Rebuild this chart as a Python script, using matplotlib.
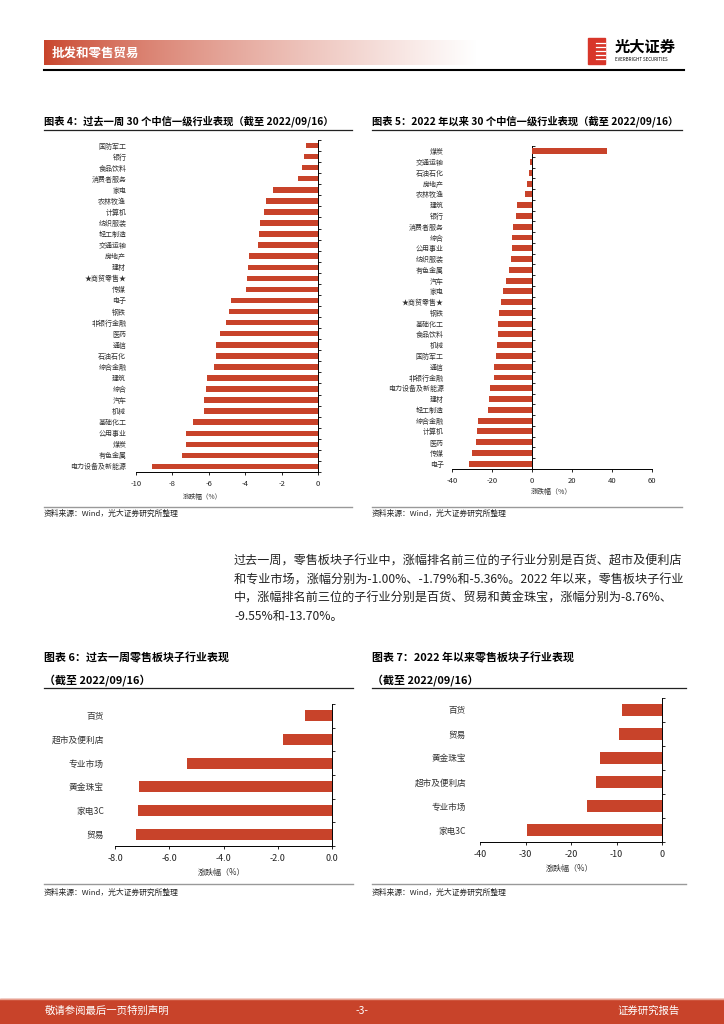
import numpy as np
import matplotlib.pyplot as plt
from matplotlib.lines import Line2D
from matplotlib.patches import Rectangle
from matplotlib.colors import to_rgb

plt.rcParams['font.family'] = ['Noto Sans CJK SC', 'DejaVu Sans']
plt.rcParams['axes.unicode_minus'] = False

RED = '#C8432A'
W, H = 724, 1024

# 图表4: 过去一周 30 个中信一级行业
wk_inds = ['国防军工', '银行', '食品饮料', '消费者服务', '家电', '农林牧渔', '计算机', '纺织服装',
           '轻工制造', '交通运输', '房地产', '建材', '★商贸零售★', '传媒', '电子', '钢铁',
           '非银行金融', '医药', '通信', '石油石化', '综合金融', '建筑', '综合', '汽车', '机械',
           '基础化工', '公用事业', '煤炭', '有色金属', '电力设备及新能源']
wk_chg = [-0.68, -0.79, -0.90, -1.10, -2.50, -2.88, -2.94, -3.19, -3.23, -3.27, -3.80, -3.83,
          -3.91, -3.98, -4.79, -4.90, -5.05, -5.38, -5.58, -5.58, -5.69, -6.09, -6.17, -6.26,
          -6.26, -6.86, -7.23, -7.28, -7.45, -9.14]

# 图表5: 2022 年以来 30 个中信一级行业
ytd_inds = ['煤炭', '交通运输', '石油石化', '房地产', '农林牧渔', '建筑', '银行', '消费者服务',
            '综合', '公用事业', '纺织服装', '有色金属', '汽车', '家电', '★商贸零售★', '钢铁',
            '基础化工', '食品饮料', '机械', '国防军工', '通信', '非银行金融', '电力设备及新能源',
            '建材', '轻工制造', '综合金融', '计算机', '医药', '传媒', '电子']
ytd_chg = [37.5, -1.2, -1.5, -2.5, -3.3, -7.5, -7.8, -9.5, -9.8, -9.8, -10.5, -11.3, -13.0,
           -14.7, -15.5, -16.7, -17.0, -17.0, -17.3, -18.0, -19.2, -19.2, -21.0, -21.3, -22.0,
           -26.8, -27.3, -27.8, -30.0, -31.5]

# 图表6 / 图表7: 零售板块子行业
rt_wk_names = ['百货', '超市及便利店', '专业市场', '黄金珠宝', '家电3C', '贸易']
rt_wk_chg = [-1.00, -1.79, -5.36, -7.11, -7.17, -7.22]
rt_ytd_names = ['百货', '贸易', '黄金珠宝', '超市及便利店', '专业市场', '家电3C']
rt_ytd_chg = [-8.76, -9.55, -13.70, -14.5, -16.5, -29.6]

fig = plt.figure(figsize=(W / 100, H / 100), dpi=100)


def px_axes(l, t, r, b):
    return fig.add_axes([l / W, 1 - b / H, (r - l) / W, (b - t) / H])


def txt(x, y, s, **kw):
    kw.setdefault('va', 'center')
    return fig.text(x / W, 1 - y / H, s, **kw)


def hline(x0, x1, y, **kw):
    fig.add_artist(Line2D([x0 / W, x1 / W], [1 - y / H] * 2, transform=fig.transFigure, **kw))


def hbar(ax, names, vals, xlim, xticks, fmt, bh, lab_fs, tick_fs, lab_pad):
    y = np.arange(len(names))
    ax.barh(y, vals, height=bh, color=RED)
    ax.set_xlim(xlim)
    ax.set_ylim(len(names) - 0.5, -0.5)
    ax.set_yticks(y, names)
    ax.tick_params(axis='y', length=0, pad=lab_pad, labelsize=lab_fs, labelcolor='#333333')
    ax.set_xticks(xticks, [fmt.format(v) for v in xticks])
    ax.tick_params(axis='x', length=2.5, width=0.6, labelsize=tick_fs, pad=3,
                   labelcolor='#222222')
    for s in ['top', 'right', 'left']:
        ax.spines[s].set_visible(False)
    ax.spines['bottom'].set_linewidth(0.7)
    ax.patch.set_alpha(0)
    # category axis at x = 0 with ticks between bars
    pos0 = (0 - xlim[0]) / (xlim[1] - xlim[0])
    sec = ax.secondary_yaxis(pos0)
    sec.set_alignment('right')
    sec.set_yticks(np.arange(len(names) + 1) - 0.5)
    sec.tick_params(length=2.5, width=0.6, direction='out', labelright=False, labelleft=False)
    sec.spines['right'].set_linewidth(0.7)


# ---- header ----
ax_b = px_axes(44, 40, 477, 65)
c0 = np.array(to_rgb(RED))
t = np.linspace(0, 1, 300)[None, :, None] ** 0.75
ax_b.imshow(c0 * (1 - t) + np.ones(3) * t, aspect='auto', extent=[0, 1, 0, 1])
ax_b.axis('off')
txt(52, 53, '批发和零售贸易', color='white', fontsize=9, fontweight='bold')
hline(44, 684, 70, color='black', lw=1.5)
fig.patches.append(Rectangle((588 / W, 1 - 64 / H), 17 / W, 26 / H, color='#D8362A',
                             transform=fig.transFigure))
for yy in [43, 47, 51, 55, 59]:
    hline(596, 605, yy, color='white', lw=0.9)
txt(615, 47, '光大证券', fontsize=11, fontweight='bold', color='black')
txt(615, 59.5, 'EVERBRIGHT SECURITIES', fontsize=3.2, color='black')

# ---- 图表4 ----
txt(44, 121, '图表 4：过去一周 30 个中信一级行业表现（截至 2022/09/16）', fontsize=7.4,
    fontweight='bold')
hline(44, 352, 130, color='#222222', lw=0.9)
ax4 = px_axes(136, 140, 318, 472)
hbar(ax4, wk_inds, wk_chg, (-10, 0), [-10, -8, -6, -4, -2, 0], '{:g}', 0.5, 5, 5.5, 7)
txt(202, 497, '涨跌幅（%）', fontsize=4.8, ha='center', color='#333333')
hline(44, 352, 507, color='#999999', lw=1)
txt(44, 514, '资料来源：Wind，光大证券研究所整理', fontsize=5.6, color='#222222')

# ---- 图表5 ----
txt(372, 121, '图表 5：2022 年以来 30 个中信一级行业表现（截至 2022/09/16）', fontsize=7.4,
    fontweight='bold')
hline(372, 682, 130, color='#222222', lw=0.9)
ax5 = px_axes(452, 146, 652, 469)
hbar(ax5, ytd_inds, ytd_chg, (-40, 60), [-40, -20, 0, 20, 40, 60], '{:g}', 0.55, 5, 5.5, 6)
txt(551, 492, '涨跌幅（%）', fontsize=5, ha='center', color='#333333')
hline(372, 682, 507, color='#999999', lw=1)
txt(372, 514, '资料来源：Wind，光大证券研究所整理', fontsize=5.6, color='#222222')

# ---- paragraph ----
para = ['过去一周，零售板块子行业中，涨幅排名前三位的子行业分别是百货、超市及便利店',
        '和专业市场，涨幅分别为-1.00%、-1.79%和-5.36%。2022 年以来，零售板块子行业',
        '中，涨幅排名前三位的子行业分别是百货、贸易和黄金珠宝，涨幅分别为-8.76%、',
        '-9.55%和-13.70%。']
for i, line in enumerate(para):
    txt(234, 561 + i * 18.6, line, fontsize=8.7, color='#222222')

# ---- 图表6 ----
txt(44, 658, '图表 6：过去一周零售板块子行业表现', fontsize=7.9, fontweight='bold')
txt(44, 680, '（截至 2022/09/16）', fontsize=7.9, fontweight='bold')
hline(44, 353, 688, color='#222222', lw=0.9)
ax6 = px_axes(115, 704, 332, 846)
hbar(ax6, rt_wk_names, rt_wk_chg, (-8, 0), [-8, -6, -4, -2, 0], '{:.1f}', 0.47, 6.3, 6.5, 8)
txt(221, 872, '涨跌幅（%）', fontsize=5.8, ha='center', color='#333333')
hline(44, 353, 884, color='#999999', lw=1)
txt(44, 893, '资料来源：Wind，光大证券研究所整理', fontsize=5.6, color='#222222')

# ---- 图表7 ----
txt(372, 658, '图表 7：2022 年以来零售板块子行业表现', fontsize=7.9, fontweight='bold')
txt(372, 680, '（截至 2022/09/16）', fontsize=7.9, fontweight='bold')
hline(372, 686, 688, color='#222222', lw=0.9)
ax7 = px_axes(480, 698, 662, 842)
hbar(ax7, rt_ytd_names, rt_ytd_chg, (-40, 0), [-40, -30, -20, -10, 0], '{:g}', 0.46, 6.2,
     6.5, 10)
txt(569, 868, '涨跌幅（%）', fontsize=5.8, ha='center', color='#333333')
hline(372, 686, 884, color='#999999', lw=1)
txt(372, 893, '资料来源：Wind，光大证券研究所整理', fontsize=5.6, color='#222222')

# ---- footer ----
fig.patches.append(Rectangle((0, 0), 1, 25 / H, color=RED, transform=fig.transFigure))
hline(0, 724, 998.5, color='#E8A090', lw=1)
txt(45, 1011, '敬请参阅最后一页特别声明', fontsize=7.5, color='white')
txt(362, 1011, '-3-', fontsize=7.5, color='white', ha='center')
txt(680, 1011, '证券研究报告', fontsize=7.5, color='white', ha='right')

fig.savefig('out.png', dpi=100)
